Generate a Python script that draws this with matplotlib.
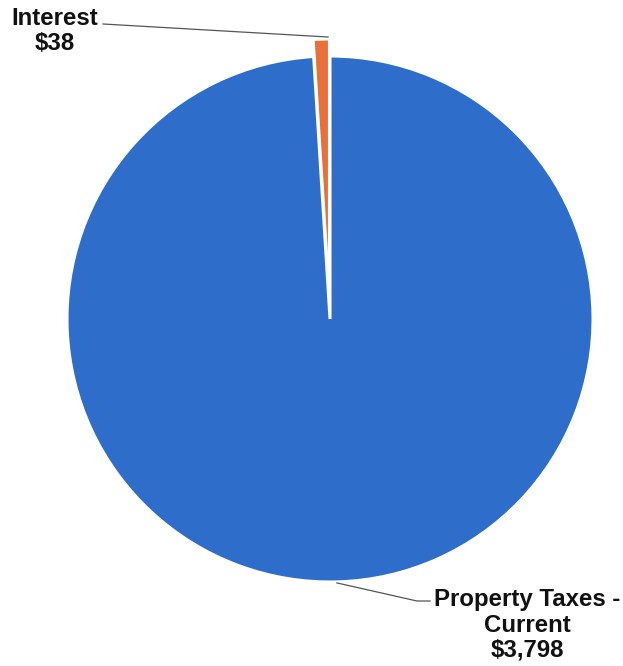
import numpy as np
import matplotlib.pyplot as plt

# revenue by source
categories = ['Interest', 'Property Taxes -\nCurrent']
values = [38, 3798]
value_labels = ['$38', '$3,798']
colors = ['#E8703A', '#2E6ECA']

W, H = 623, 666
fig = plt.figure(figsize=(W / 100, H / 100), dpi=100)
ax = fig.add_axes([0, 0, 1, 1])

center = (330, H - 319)
radius = 263
wedges, _ = ax.pie(values, colors=colors, startangle=90, counterclock=True,
                   center=center, radius=radius, explode=[17, 0],
                   wedgeprops=dict(linewidth=2.2, edgecolor='white'),
                   frame=True)
ax.set_xlim(0, W)
ax.set_ylim(0, H)
ax.set_aspect('equal')
ax.axis('off')

font = dict(family='Liberation Sans', weight='bold', fontsize=17.3, color='#111111')

# Interest label + leader line to top of exploded wedge
w = wedges[0]
tm = np.deg2rad(w.theta1 + 0.3)
tip = (w.center[0] + w.r * np.cos(tm), w.center[1] + w.r * np.sin(tm))
ax.plot([103, tip[0]], [H - 24, tip[1] + 2], color='#555555', lw=0.9)
ax.text(55, H - 31, categories[0] + '\n' + value_labels[0], ha='center', va='center',
        linespacing=1.1, **font)

# Property taxes label + leader line from bottom edge
w = wedges[1]
tb = np.deg2rad(271.5)
p = (w.center[0] + w.r * np.cos(tb), w.center[1] + w.r * np.sin(tb))
ax.plot([p[0], 417, 430], [p[1] - 1, H - 601, H - 601], color='#555555', lw=0.9)
ax.text(527, H - 625, categories[1] + '\n' + value_labels[1], ha='center', va='center',
        linespacing=1.12, **font)

fig.savefig('out.png', dpi=100, facecolor='white')
